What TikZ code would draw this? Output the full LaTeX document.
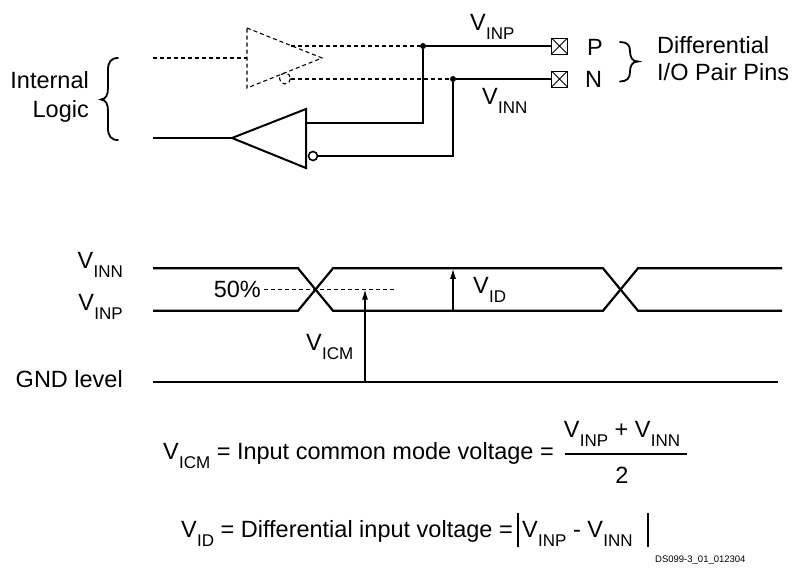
\documentclass[tikz,border=0pt]{standalone}
\usepackage{fontspec}
\setmainfont{Liberation Sans}
\usetikzlibrary{arrows.meta}
\newcommand\Vsub[1]{V\kern0.3pt\raisebox{-9.5pt}{\fontsize{17}{17}\selectfont #1}}
\begin{document}
\begin{tikzpicture}[x=1pt,y=-1pt,
  txt/.style={inner sep=0pt,font=\fontsize{23.5}{26}\selectfont},
  thin line/.style={line width=1.2pt},
  dashline/.style={line width=1.1pt,dash pattern=on 4pt off 3pt},
  sig/.style={line width=2.2pt,line join=miter},
  dot/.style={circle,fill=black,inner sep=0pt,minimum size=6pt},
  pin/.style={draw,line width=1pt,minimum size=16pt,inner sep=0pt,
    path picture={\draw[line width=0.8pt] (path picture bounding box.north west)--(path picture bounding box.south east)
      (path picture bounding box.south west)--(path picture bounding box.north east);}},
  arr/.style={line width=1.2pt,-{Latex[length=10pt,width=6pt]}},
  brace/.style={line width=1.8pt,line cap=round}]
\useasboundingbox (0,0) rectangle (793,579);

% ---------- circuit ----------
% dashed output buffer
\draw[dashline] (247,28) -- (322,58) -- (247,88) -- cycle;
\coordinate (din) at (153,58);
\coordinate (dbl) at (247,58);
\draw[dashline] (din) -- (dbl);
\draw[dashline] (285,78.5) circle (5.5);
\node[dot] (dp) at (423,46) {};
\node[dot] (dn) at (453,79) {};
\coordinate (ptop) at (291,46);
\coordinate (nb) at (290.5,79);
\draw[dashline] (ptop) -- (dp);
\draw[dashline] (nb) -- (dn);
% pins
\node[pin] (P) at (559.5,46) {};
\node[pin] (N) at (559.5,79) {};
\draw[thin line] (dp) -- (P.west);
\draw[thin line] (dn) -- (N.west);
% input buffer
\draw[line width=2pt,line join=miter] (306,109) -- (306,168) -- (232,138) -- cycle;
\node[draw,circle,line width=1.6pt,inner sep=0pt,minimum size=9pt] (bub) at (313,156) {};
\coordinate (lin) at (153,138);
\coordinate (tip) at (232,138);
\draw[thin line] (lin) -- (tip);
\coordinate (pin1) at (306,123);
\draw[thin line] (dp) |- (pin1);
\draw[thin line] (bub.east) -| (dn);

\node[txt,anchor=base west] (vinp) at (470,30) {\Vsub{INP}};
\node[txt,anchor=base west] (vinn) at (482,104) {\Vsub{INN}};
\node[txt,anchor=base west] (Pl) at (587,55) {P};
\node[txt,anchor=base west] (Nl) at (585,87) {N};
\draw[brace] (620,42) .. controls (627,42) and (630,45) .. (630,51)
  .. controls (630,57) and (632,61.5) .. (638,61.5)
  .. controls (632,61.5) and (630,66) .. (630,72)
  .. controls (630,78) and (627,81.5) .. (620,81.5);
\node[txt,anchor=base west] (dif) at (657,53) {Differential};
\node[txt,anchor=base west] (iop) at (657,80) {I/O Pair Pins};

\node[txt,anchor=base east] (int) at (89,88) {Internal};
\node[txt,anchor=base east] (log) at (89,117) {Logic};
\draw[brace] (118,58) .. controls (111,58) and (108,62) .. (108,70)
  -- (108,88) .. controls (108,95) and (106,99) .. (101,99.5)
  .. controls (106,100) and (108,104) .. (108,111)
  -- (108,128) .. controls (108,136) and (111,140) .. (118,140);

% ---------- timing ----------
\draw[sig] (153,268.3) -- (298,268.3) -- (333,310.7) -- (603,310.7) -- (638,268.3) -- (782,268.3);
\draw[sig] (153,310.7) -- (298,310.7) -- (333,268.3) -- (603,268.3) -- (638,310.7) -- (782,310.7);
\coordinate (g0) at (153,381.7);
\coordinate (g1) at (778,381.7);
\draw[sig] (g0) -- (g1);

\node[txt,anchor=base east] (tvinn) at (123,268) {\Vsub{INN}};
\node[txt,anchor=base east] (tvinp) at (123,310) {\Vsub{INP}};
\node[txt,anchor=base east] (gnd) at (123,387) {GND level};

\node[txt,anchor=base east] (pct) at (261,297) {50\%};
\coordinate (m1) at (395,289.5);
\draw[line width=1pt,dash pattern=on 4pt off 3pt] (pct.east |- m1) ++(3,0) -- (m1);

\coordinate (icm0) at (365,381.7);
\coordinate (icm1) at (365,289.5);
\draw[arr] (icm0) -- (icm1);
\coordinate (id0) at (453,310.7);
\coordinate (id1) at (453,268.8);
\draw[arr] (id0) -- (id1);
\node[txt,anchor=base west] (vicm) at (306,350) {\Vsub{ICM}};
\node[txt,anchor=base west] (vid) at (473,293) {\Vsub{ID}};

% ---------- equations ----------
\node[txt,anchor=base east] (eq1) at (554,459) {\Vsub{ICM} = Input common mode voltage =};
\node[txt,anchor=base] (num) at (622,437) {\Vsub{INP} + \Vsub{INN}};
\node[txt,anchor=base] (den) at (622,483) {2};
\draw[line width=1.2pt] (565,454) -- (687,454);

\node[txt,anchor=base east] (eq2) at (513,537) {\Vsub{ID} = Differential input voltage =};
\node[txt,anchor=base west] (absx) at (522,537) {\Vsub{INP} - \Vsub{INN}};
\draw[line width=1.5pt] (518,513) -- (518,547);
\draw[line width=1.5pt] (648,513) -- (648,547);

\node[inner sep=0pt,anchor=base west,font=\fontsize{9.5}{11}\selectfont] (ds) at (655,562) {DS099-3\_01\_012304};
\end{tikzpicture}
\end{document}
